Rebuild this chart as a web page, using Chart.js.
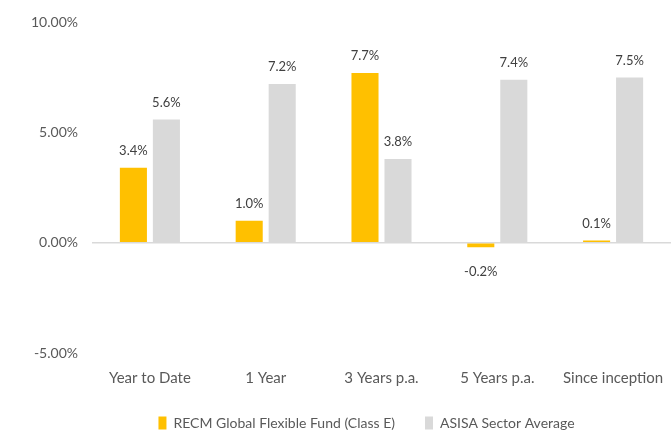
<!DOCTYPE html>
<html>
<head>
<meta charset="utf-8">
<script src="https://cdn.jsdelivr.net/npm/chart.js@4.4.0/dist/chart.umd.min.js"></script>
<style>
  html, body { margin: 0; padding: 0; background: #fff; }
  #wrap { width: 671px; height: 431px; }
</style>
</head>
<body>
<div id="wrap"><canvas id="grafico"></canvas></div>
<script>
const categorias = ["Year to Date", "1 Year", "3 Years p.a.", "5 Years p.a.", "Since inception"];
const fundo = [3.4, 1.0, 7.7, -0.2, 0.1];
const setor = [5.6, 7.2, 3.8, 7.4, 7.5];
const nomesSeries = ["RECM Global Flexible Fund (Class E)", "ASISA Sector Average"];
const ticksY = [-5, 0, 5, 10];

const fonte = "Lato, 'Liberation Sans', sans-serif";

// rotulos de valor em cima (ou embaixo) das barras
const rotulos = {
  id: "rotulosBarras",
  afterLayout: (chart) => {
    // legenda do original fica um pouco a direita do centro
    chart.legend.left += 62;
  },
  afterDatasetsDraw: (chart) => {
    const ctx = chart.ctx;
    ctx.save();
    ctx.font = "13px " + fonte;
    ctx.fillStyle = "#404040";
    ctx.textAlign = "center";
    ctx.textBaseline = "middle";
    chart.data.datasets.forEach((ds, i) => {
      chart.getDatasetMeta(i).data.forEach((bar, j) => {
        const v = ds.data[j];
        const y = v >= 0 ? bar.y - 17 : bar.y + 25;
        ctx.fillText(v.toFixed(1) + "%", bar.x, y);
      });
    });
    ctx.restore();
  },
};

new Chart(document.getElementById("grafico"), {
  type: "bar",
  plugins: [rotulos],
  data: {
    labels: categorias,
    datasets: [
      { label: nomesSeries[0], data: fundo, backgroundColor: "#FFC000" },
      { label: nomesSeries[1], data: setor, backgroundColor: "#D9D9D9" },
    ],
  },
  options: {
    responsive: true,
    maintainAspectRatio: false,
    animation: false,
    layout: { padding: { top: 22, left: 0, right: 0, bottom: 0 } },
    datasets: { bar: { categoryPercentage: 0.57, barPercentage: 0.82 } },
    plugins: {
      tooltip: { enabled: false },
      legend: {
        position: "bottom",
        maxHeight: 45,
        labels: {
          font: { family: fonte, size: 14 },
          color: "#595959",
          boxWidth: 8,
          boxHeight: 13,
          padding: 30,
        },
      },
    },
    scales: {
      x: {
        grid: { display: false, drawTicks: false },
        border: { display: false },
        ticks: { font: { family: fonte, size: 15, lineHeight: 1.0 }, color: "#595959", padding: 18 },
        afterFit: (scale) => {
          scale.height = 33;
          scale.paddingLeft = 0;
          scale.paddingRight = 0;
        },
      },
      y: {
        min: -5,
        max: 10,
        afterBuildTicks: (scale) => { scale.ticks = ticksY.map((v) => ({ value: v })); },
        afterFit: (scale) => { scale.width = 92; },
        border: { display: false },
        grid: {
          drawTicks: false,
          lineWidth: 1.5,
          color: (c) => (c.tick && c.tick.value === 0 ? "#D9D9D9" : "rgba(0,0,0,0)"),
        },
        ticks: {
          font: { family: fonte, size: 14 },
          color: "#595959",
          padding: 14,
          callback: (v) => v.toFixed(2) + "%",
        },
      },
    },
  },
});
</script>
</body>
</html>
